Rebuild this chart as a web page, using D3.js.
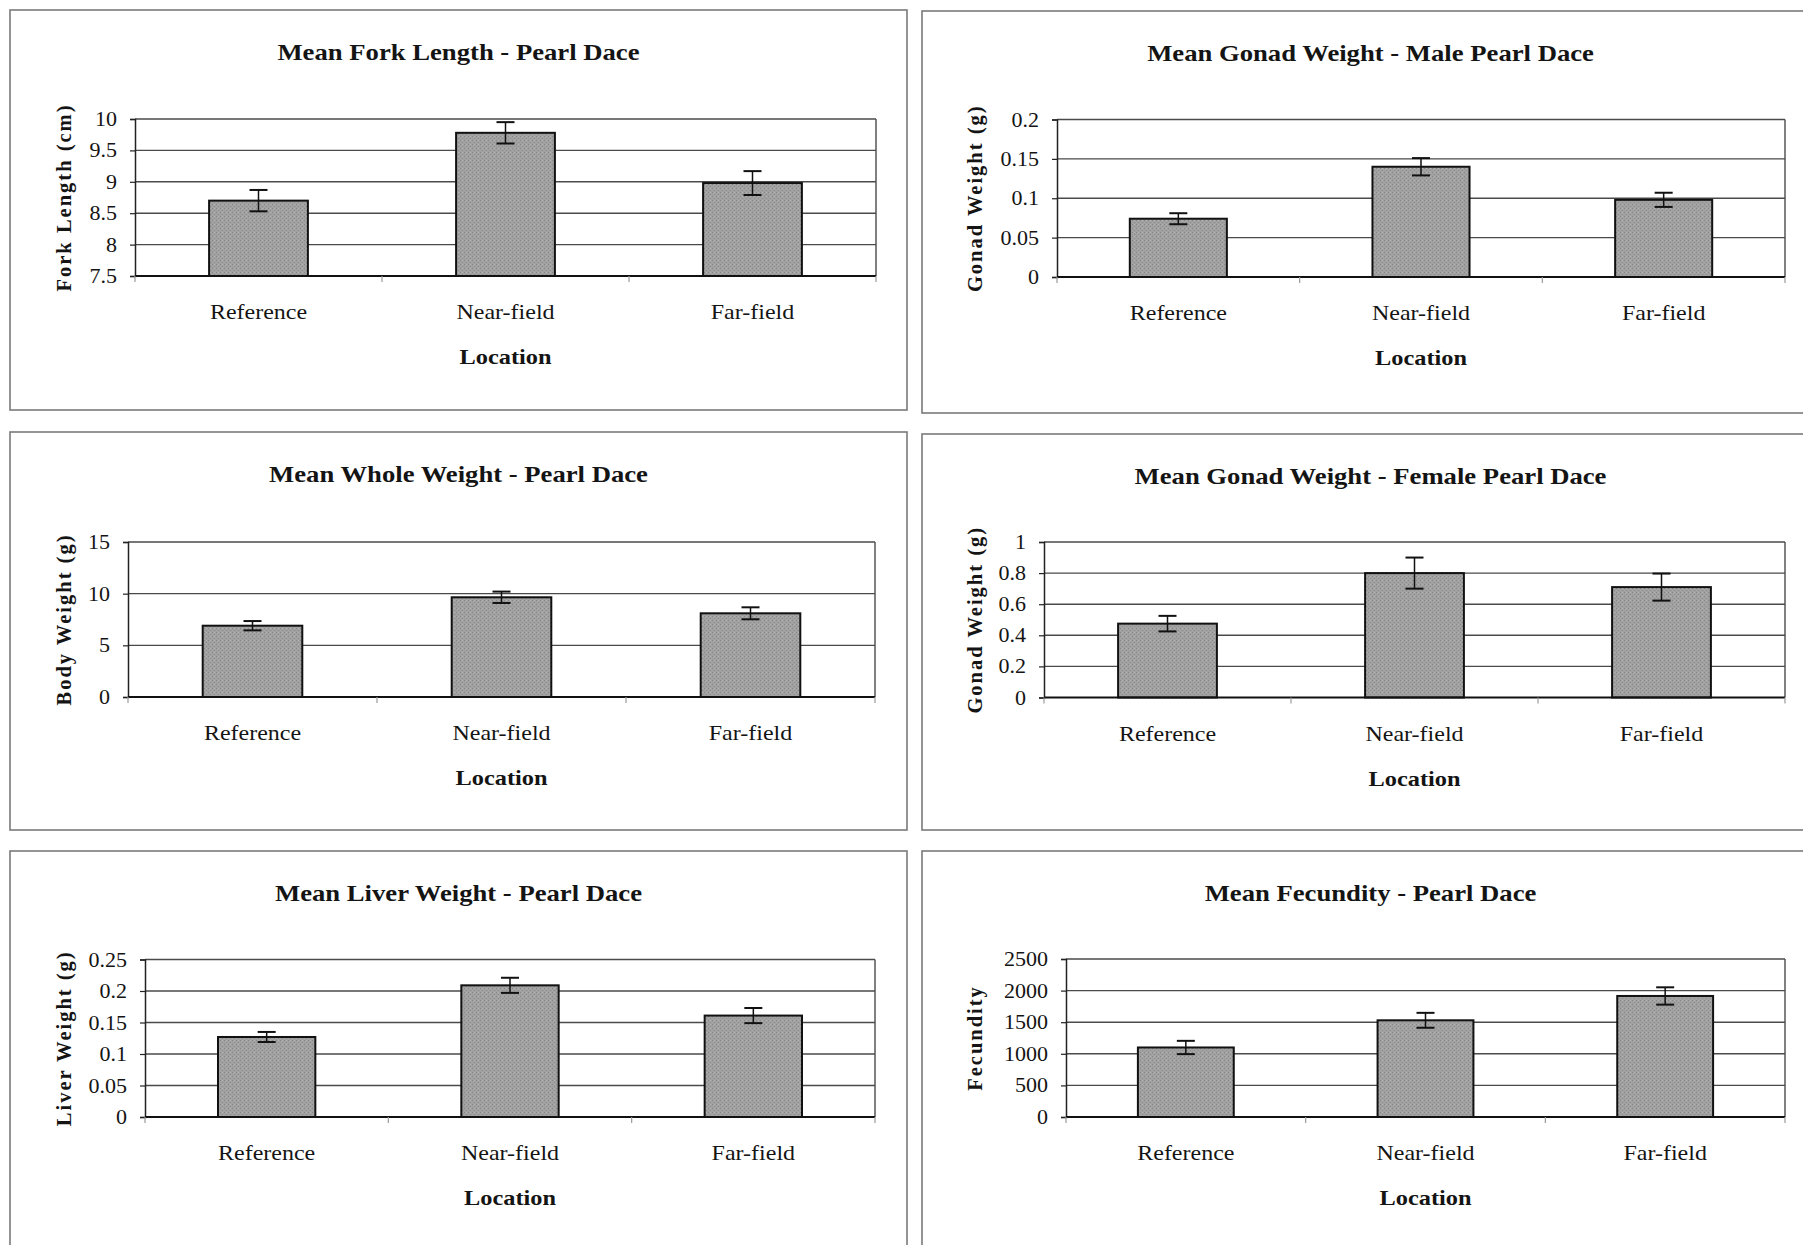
<!DOCTYPE html>
<html>
<head>
<meta charset="utf-8">
<title>Pearl Dace – Mean Measurements by Location</title>
<script src="https://cdn.jsdelivr.net/npm/d3@7"></script>
<style>
  html, body { margin: 0; padding: 0; background: #ffffff; }
  svg { display: block; }
  text { font-family: "Liberation Serif", "Times New Roman", serif; fill: #141414; }
</style>
</head>
<body>
<svg id="chart" width="1803" height="1245"></svg>
<script>
// ---- data ----
const categories = ["Reference", "Near-field", "Far-field"];

const forkLength      = [8.70, 9.78, 8.98];
const forkLengthErr   = [0.17, 0.17, 0.19];
const forkTicks       = [7.5, 8, 8.5, 9, 9.5, 10];
const forkTickLabels  = ["7.5", "8", "8.5", "9", "9.5", "10"];

const maleGonad       = [0.074, 0.140, 0.098];
const maleGonadErr    = [0.007, 0.011, 0.009];
const maleTicks       = [0, 0.05, 0.1, 0.15, 0.2];
const maleTickLabels  = ["0", "0.05", "0.1", "0.15", "0.2"];

const wholeWeight     = [6.9, 9.65, 8.1];
const wholeWeightErr  = [0.45, 0.55, 0.58];
const wholeTicks      = [0, 5, 10, 15];
const wholeTickLabels = ["0", "5", "10", "15"];

const femaleGonad     = [0.475, 0.80, 0.71];
const femaleGonadErr  = [0.05, 0.10, 0.087];
const femaleTicks     = [0, 0.2, 0.4, 0.6, 0.8, 1];
const femaleTickLabels = ["0", "0.2", "0.4", "0.6", "0.8", "1"];

const liverWeight     = [0.127, 0.209, 0.161];
const liverWeightErr  = [0.008, 0.012, 0.012];
const liverTicks      = [0, 0.05, 0.1, 0.15, 0.2, 0.25];
const liverTickLabels = ["0", "0.05", "0.1", "0.15", "0.2", "0.25"];

const fecundity       = [1100, 1530, 1915];
const fecundityErr    = [105, 118, 137];
const fecTicks        = [0, 500, 1000, 1500, 2000, 2500];
const fecTickLabels   = ["0", "500", "1000", "1500", "2000", "2500"];

// ---- panel layout ----
const panels = [
  { title: "Mean Fork Length - Pearl Dace", ylabel: "Fork Length (cm)",
    values: forkLength, errors: forkLengthErr, ticks: forkTicks, labels: forkTickLabels,
    frame: [10, 10, 907, 410], plot: [135, 876, 119, 276] },
  { title: "Mean Gonad Weight - Male Pearl Dace", ylabel: "Gonad Weight (g)",
    values: maleGonad, errors: maleGonadErr, ticks: maleTicks, labels: maleTickLabels,
    frame: [922, 11, 1840, 413], plot: [1057, 1785, 119.5, 277] },
  { title: "Mean Whole Weight - Pearl Dace", ylabel: "Body Weight (g)",
    values: wholeWeight, errors: wholeWeightErr, ticks: wholeTicks, labels: wholeTickLabels,
    frame: [10, 432, 907, 830], plot: [128, 875, 542, 697] },
  { title: "Mean Gonad Weight - Female Pearl Dace", ylabel: "Gonad Weight (g)",
    values: femaleGonad, errors: femaleGonadErr, ticks: femaleTicks, labels: femaleTickLabels,
    frame: [922, 434, 1840, 830], plot: [1044, 1785, 542, 697.5] },
  { title: "Mean Liver Weight - Pearl Dace", ylabel: "Liver Weight (g)",
    values: liverWeight, errors: liverWeightErr, ticks: liverTicks, labels: liverTickLabels,
    frame: [10, 851, 907, 1270], plot: [145, 875, 959.5, 1117] },
  { title: "Mean Fecundity - Pearl Dace", ylabel: "Fecundity",
    values: fecundity, errors: fecundityErr, ticks: fecTicks, labels: fecTickLabels,
    frame: [922, 851, 1840, 1270], plot: [1066, 1785, 959, 1117] }
];

const svg = d3.select("#chart");

// stippled grey fill used by every bar
const defs = svg.append("defs");
const pat = defs.append("pattern")
  .attr("id", "stipple").attr("patternUnits", "userSpaceOnUse")
  .attr("width", 4).attr("height", 4);
pat.append("rect").attr("width", 4).attr("height", 4).attr("fill", "#a1a1a1");
pat.append("rect").attr("x", 0).attr("y", 0).attr("width", 1).attr("height", 1).attr("fill", "#858585");
pat.append("rect").attr("x", 2).attr("y", 2).attr("width", 1).attr("height", 1).attr("fill", "#8c8c8c");
pat.append("rect").attr("x", 2).attr("y", 0).attr("width", 1).attr("height", 1).attr("fill", "#b4b4b4");

const SX = 1.16;   // horizontal widening of the printed type

function stretched(g, x, y, str, opts) {
  const t = g.append("text")
    .attr("transform", `translate(${x},${y}) scale(${opts.sx || SX},1)`)
    .attr("text-anchor", opts.anchor || "middle")
    .style("font-size", opts.size + "px")
    .style("font-weight", opts.bold ? "bold" : "normal")
    .text(str);
  return t;
}

panels.forEach(p => {
  const g = svg.append("g");
  const [fx0, fy0, fx1, fy1] = p.frame;
  const [pl, pr, pt, pb] = p.plot;

  // chart frame
  g.append("rect")
    .attr("x", fx0).attr("y", fy0)
    .attr("width", fx1 - fx0).attr("height", fy1 - fy0)
    .attr("fill", "none").attr("stroke", "#7a7a7a").attr("stroke-width", 1.6);

  const x = d3.scaleBand().domain(categories).range([pl, pr])
    .paddingInner(0.6).paddingOuter(0.3);
  const y = d3.scaleLinear()
    .domain([p.ticks[0], p.ticks[p.ticks.length - 1]])
    .range([pb, pt]);

  // title
  stretched(g, (fx0 + Math.min(fx1, fx0 + 897)) / 2, fy0 + 50, p.title, { size: 23, bold: true });

  // horizontal gridlines
  g.append("g").selectAll("line")
    .data(p.ticks.slice(1))
    .join("line")
    .attr("x1", pl).attr("x2", pr)
    .attr("y1", d => y(d)).attr("y2", d => y(d))
    .attr("stroke", "#4a4a4a").attr("stroke-width", 1.4);

  // right border of plot area
  g.append("line").attr("x1", pr).attr("x2", pr).attr("y1", pt).attr("y2", pb)
    .attr("stroke", "#4a4a4a").attr("stroke-width", 1.4);

  // value axis
  const yAxis = d3.axisLeft(y).tickValues(p.ticks).tickSize(5).tickFormat("");
  const ya = g.append("g").attr("transform", `translate(${pl},0)`).call(yAxis);
  ya.select(".domain").attr("stroke", "#222").attr("stroke-width", 1.5);
  ya.selectAll(".tick line").attr("stroke", "#222").attr("stroke-width", 1.2);

  p.ticks.forEach((v, i) => {
    stretched(g, pl - 18, y(v) + 7, p.labels[i], { size: 20, anchor: "end", sx: 1.1 });
  });

  // bars
  g.append("g").selectAll("rect")
    .data(categories)
    .join("rect")
    .attr("x", d => x(d))
    .attr("width", x.bandwidth())
    .attr("y", (d, i) => y(p.values[i]))
    .attr("height", (d, i) => pb - y(p.values[i]))
    .attr("fill", "url(#stipple)")
    .attr("stroke", "#111").attr("stroke-width", 2);

  // error bars
  const eb = g.append("g").attr("stroke", "#111").attr("stroke-width", 2);
  categories.forEach((c, i) => {
    const cx = x(c) + x.bandwidth() / 2;
    const hi = y(p.values[i] + p.errors[i]);
    const lo = y(p.values[i] - p.errors[i]);
    eb.append("line").attr("x1", cx).attr("x2", cx).attr("y1", hi).attr("y2", lo).attr("stroke-width", 1.5);
    eb.append("line").attr("x1", cx - 9).attr("x2", cx + 9).attr("y1", hi).attr("y2", hi);
    eb.append("line").attr("x1", cx - 9).attr("x2", cx + 9).attr("y1", lo).attr("y2", lo);
  });

  // category axis
  g.append("line").attr("x1", pl).attr("x2", pr).attr("y1", pb).attr("y2", pb)
    .attr("stroke", "#111").attr("stroke-width", 2.2);
  const step = x.step();
  d3.range(categories.length + 1).forEach(k => {
    const tx = pl + k * step;
    g.append("line").attr("x1", tx).attr("x2", tx).attr("y1", pb).attr("y2", pb + 6)
      .attr("stroke", "#9a9a9a").attr("stroke-width", 1.2);
  });
  categories.forEach(c => {
    stretched(g, x(c) + x.bandwidth() / 2, pb + 43, c, { size: 20, sx: 1.2 });
  });
  stretched(g, (pl + pr) / 2, pb + 88, "Location", { size: 21, bold: true });

  // value-axis title
  const ycx = fx0 < 500 ? 64 : 975;
  g.append("text")
    .attr("transform", `translate(${ycx + 7},${(pt + pb) / 2}) rotate(-90)`)
    .attr("text-anchor", "middle")
    .style("font-size", "20.5px").style("font-weight", "bold")
    .style("letter-spacing", "2px")
    .text(p.ylabel);
});
</script>
</body>
</html>
